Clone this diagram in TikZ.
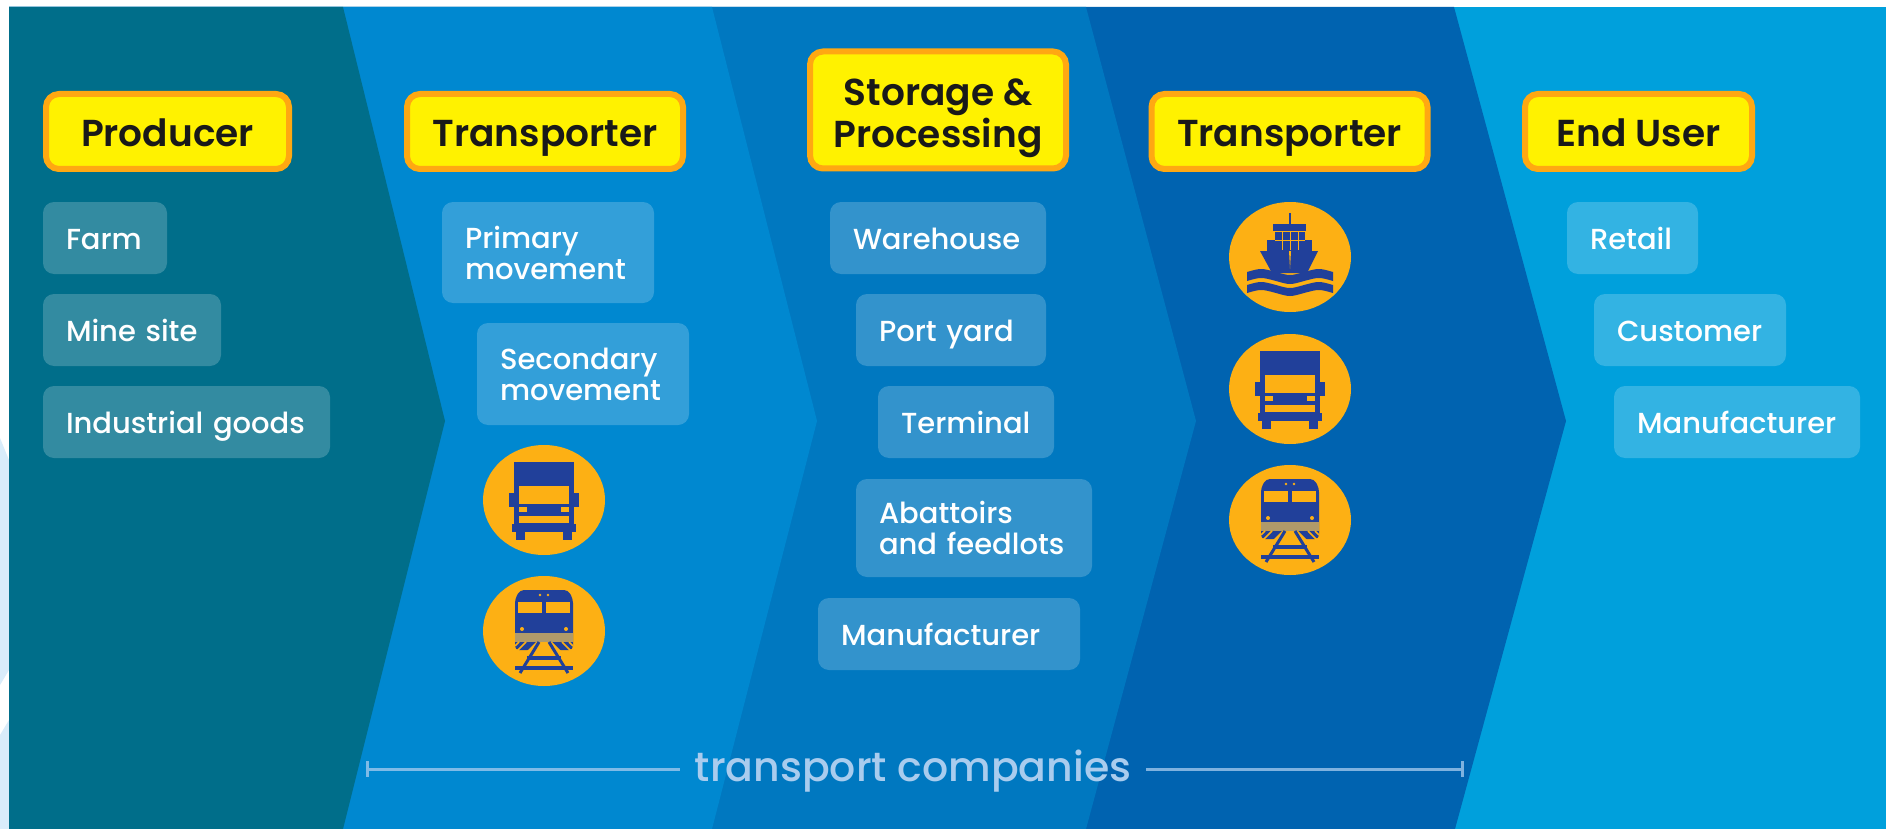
\documentclass[tikz,border=0pt]{standalone}
\usepackage{fontspec}
\setmainfont{Poppins Medium}
\newfontfamily\headfont{Poppins SemiBold}
\usetikzlibrary{shapes.geometric}
\definecolor{tealpanel}{HTML}{006E8A}
\definecolor{bluepanel}{HTML}{0088D0}
\definecolor{midpanel}{HTML}{0078C0}
\definecolor{deeppanel}{HTML}{0063B0}
\definecolor{skypanel}{HTML}{00A0DC}
\definecolor{headyellow}{HTML}{FFF200}
\definecolor{headorange}{HTML}{FFA812}
\definecolor{iconorange}{HTML}{FDB014}
\definecolor{iconblue}{HTML}{21409A}
\definecolor{icontan}{HTML}{B09A6A}
\definecolor{spanblue}{HTML}{A9CCEE}
\definecolor{edgepale}{HTML}{D9ECFA}
\tikzset{
  headbox/.style={draw=headorange,line width=6pt,fill=headyellow,rounded corners=13pt,text=black!90,
    align=center,inner sep=0pt,execute at begin node=\rule{0pt}{39pt},execute at end node=\rule[-9.4pt]{0pt}{9.4pt},
    font=\fontsize{37.5}{42}\selectfont\headfont},
  labelbox/.style={fill=white,fill opacity=.2,text opacity=1,text=white,rounded corners=11pt,
    align=left,inner xsep=23pt,inner ysep=0pt,minimum height=72pt,execute at begin node=\rule{0pt}{31pt},execute at end node=\rule[-8.5pt]{0pt}{8.5pt},
    font=\fontsize{29}{31}\selectfont},
  iconspot/.style={ellipse,fill=iconorange,minimum width=122pt,minimum height=110pt,inner sep=0pt},
  truckicon/.pic={
    \fill[iconblue] (-30,-38) rectangle (30,25);
    \fill[iconblue] (-35,-7) rectangle (35,7);
    \fill[iconblue] (-32,24) rectangle (32,32);
    \fill[iconblue] (-28,32) rectangle (-19,40);
    \fill[iconblue] (19,32) rectangle (28,40);
    \fill[iconorange] (-25,-14) rectangle (25,4);
    \fill[iconorange] (-25,7) rectangle (-17,12);
    \fill[iconorange] (17,7) rectangle (25,12);
    \fill[iconorange] (-25,16) rectangle (25,23);
  },
  trainicon/.pic={
    \fill[iconblue,rounded corners=4pt] (-29,19) -- (-29,-32) -- (-24,-41) -- (24,-41) -- (29,-32) -- (29,19) -- cycle;
    \fill[iconorange] (-26,-29) rectangle (-2,-18);
    \fill[iconorange] (2,-29) rectangle (26,-18);
    \fill[iconorange] (-22,-2) circle (2);
    \fill[iconorange] (22,-2) circle (2);
    \fill[iconorange] (-4,-36) circle (1.3);
    \fill[iconorange] (4,-36) circle (1.3);
    \fill[icontan] (-29,2) rectangle (29,11);
    \fill[iconorange] (-8,11) -- (8,11) -- (29,32) -- (-29,32) -- cycle;
    \draw[iconorange,line width=1.6pt] (-29,22) -- (-18,11) (-29,15) -- (-25,11) (29,22) -- (18,11) (29,15) -- (25,11);
    \draw[iconblue,line width=3pt] (-5,11) -- (-24,42) (5,11) -- (24,42);
    \draw[iconblue,line width=3.5pt] (-17,27) -- (17,27);
    \draw[iconblue,line width=3.5pt] (-29,37) -- (29,37);
  },
  shipicon/.pic={
    \fill[iconblue] (-1,-44) rectangle (1,-32);
    \fill[iconblue] (-17,-33) rectangle (16,-26);
    \fill[iconblue] (-23,-17) rectangle (22,-6);
    \fill[iconblue] (-15,-25) rectangle (15,-17);
    \draw[iconorange,line width=.5pt] (-8,-25) -- (-8,-7) (0,-25) -- (0,-7) (8,-25) -- (8,-7) (-15,-17) -- (15,-17);
    \fill[iconblue] (-30,-6) -- (28,-6) -- (17,16) -- (-18,16) -- cycle;
    \fill[iconorange] (-1,-6) -- (1,-6) -- (0,12) -- cycle;
    \fill[iconblue] (-43,15) .. controls (-29,11) and (-29,11) .. (-14,15) .. controls (0,19) and (0,19) .. (14,15) .. controls (29,11) and (29,11) .. (43,15)
      -- (43,24) .. controls (29,20) and (29,20) .. (14,24) .. controls (0,28) and (0,28) .. (-14,24) .. controls (-29,20) and (-29,20) .. (-43,24) -- cycle;
    \fill[iconblue] (-43,28) .. controls (-29,24) and (-29,24) .. (-14,28) .. controls (0,32) and (0,32) .. (14,28) .. controls (29,24) and (29,24) .. (43,28)
      -- (43,36) .. controls (29,32) and (29,32) .. (14,36) .. controls (0,40) and (0,40) .. (-14,36) .. controls (-29,32) and (-29,32) .. (-43,36) -- cycle;
  }
}
\begin{document}
\begin{tikzpicture}[x=1pt,y=-1pt]
  \useasboundingbox (0,0) rectangle (1886,829);

  \fill[white] (0,0) rectangle (1886,829);
  \fill[edgepale] (0,438) -- (9,460) -- (9,670) -- (0,685) -- cycle;
  \fill[edgepale] (0,735) -- (9,720) -- (9,829) -- (0,829) -- cycle;
  \fill[skypanel] (9,7) rectangle (1886,829);
  \fill[deeppanel] (9,7) -- (1454,7) -- (1566,421) -- (1455,829) -- (9,829) -- cycle;
  \fill[midpanel] (9,7) -- (1086,7) -- (1196,421) -- (1086,829) -- (9,829) -- cycle;
  \fill[bluepanel] (9,7) -- (712,7) -- (817,421) -- (712,829) -- (9,829) -- cycle;
  \fill[tealpanel] (9,7) -- (343,7) -- (445,421) -- (343,829) -- (9,829) -- cycle;

  \begin{scope}[every node/.style={headbox}]
    \node[minimum width=243pt,minimum height=75pt] (producer) at (167.5,131.5) {Producer};
    \node[minimum width=276pt,minimum height=75pt] (carrierA) at (545,131.5) {Transporter};
    \node[minimum width=256pt,minimum height=117pt] (storage) at (938,110) {\rule{0pt}{43pt}Storage \&\\Processing};
    \node[minimum width=276pt,minimum height=75pt] (carrierB) at (1289.5,131.5) {Transporter};
    \node[minimum width=227pt,minimum height=75pt] (enduser) at (1638.5,131.5) {End User};
  \end{scope}

  \begin{scope}[every node/.style={labelbox}]
    \node[text width=78pt] (farm) at (105,238) {Farm};
    \node[text width=132pt] (mine) at (132,330) {Mine site};
    \node[text width=241pt] (goods) at (186.5,422) {Industrial goods};
    \node[text width=166pt,minimum height=101pt] (primary) at (548,252.5) {Primary\\movement};
    \node[text width=166pt,minimum height=102pt] (secondary) at (583,374) {Secondary\\movement};
    \node[text width=170pt] (warehouse) at (938,238) {Warehouse};
    \node[text width=144pt] (portyard) at (951,330) {Port yard};
    \node[text width=130pt] (terminal) at (966,422) {Terminal};
    \node[text width=190pt,minimum height=98pt] (abattoirs) at (974,528) {Abattoirs\\and feedlots};
    \node[text width=216pt] (makerA) at (949,634) {Manufacturer};
    \node[text width=85pt] (retail) at (1632.5,238) {Retail};
    \node[text width=146pt] (customer) at (1690,330) {Customer};
    \node[text width=200pt] (makerB) at (1737,422) {Manufacturer};
  \end{scope}

  \begin{scope}[every node/.style={iconspot}]
    \node (truckA) at (544,500) {};
    \node (trainA) at (544,631) {};
    \node (shipB) at (1290,257) {};
    \node (truckB) at (1290,389) {};
    \node (trainB) at (1290,520) {};
  \end{scope}
  \pic at (truckA) {truckicon};
  \pic at (trainA) {trainicon};
  \pic at (shipB) {shipicon};
  \pic at (truckB) {truckicon};
  \pic at (trainB) {trainicon};

  \coordinate (spanL) at (366,769);
  \coordinate (spanR) at (1464,769);
  \node[text=spanblue,inner sep=0pt,outer xsep=15pt,font=\fontsize{41}{46}\selectfont] (span) at (913,771) {transport companies};
  \draw[|-,spanblue!75!bluepanel,line width=3pt] (spanL) -- (span.west |- spanL);
  \draw[-|,spanblue!75!deeppanel,line width=3pt] (span.east |- spanR) -- (spanR);
\end{tikzpicture}
\end{document}
